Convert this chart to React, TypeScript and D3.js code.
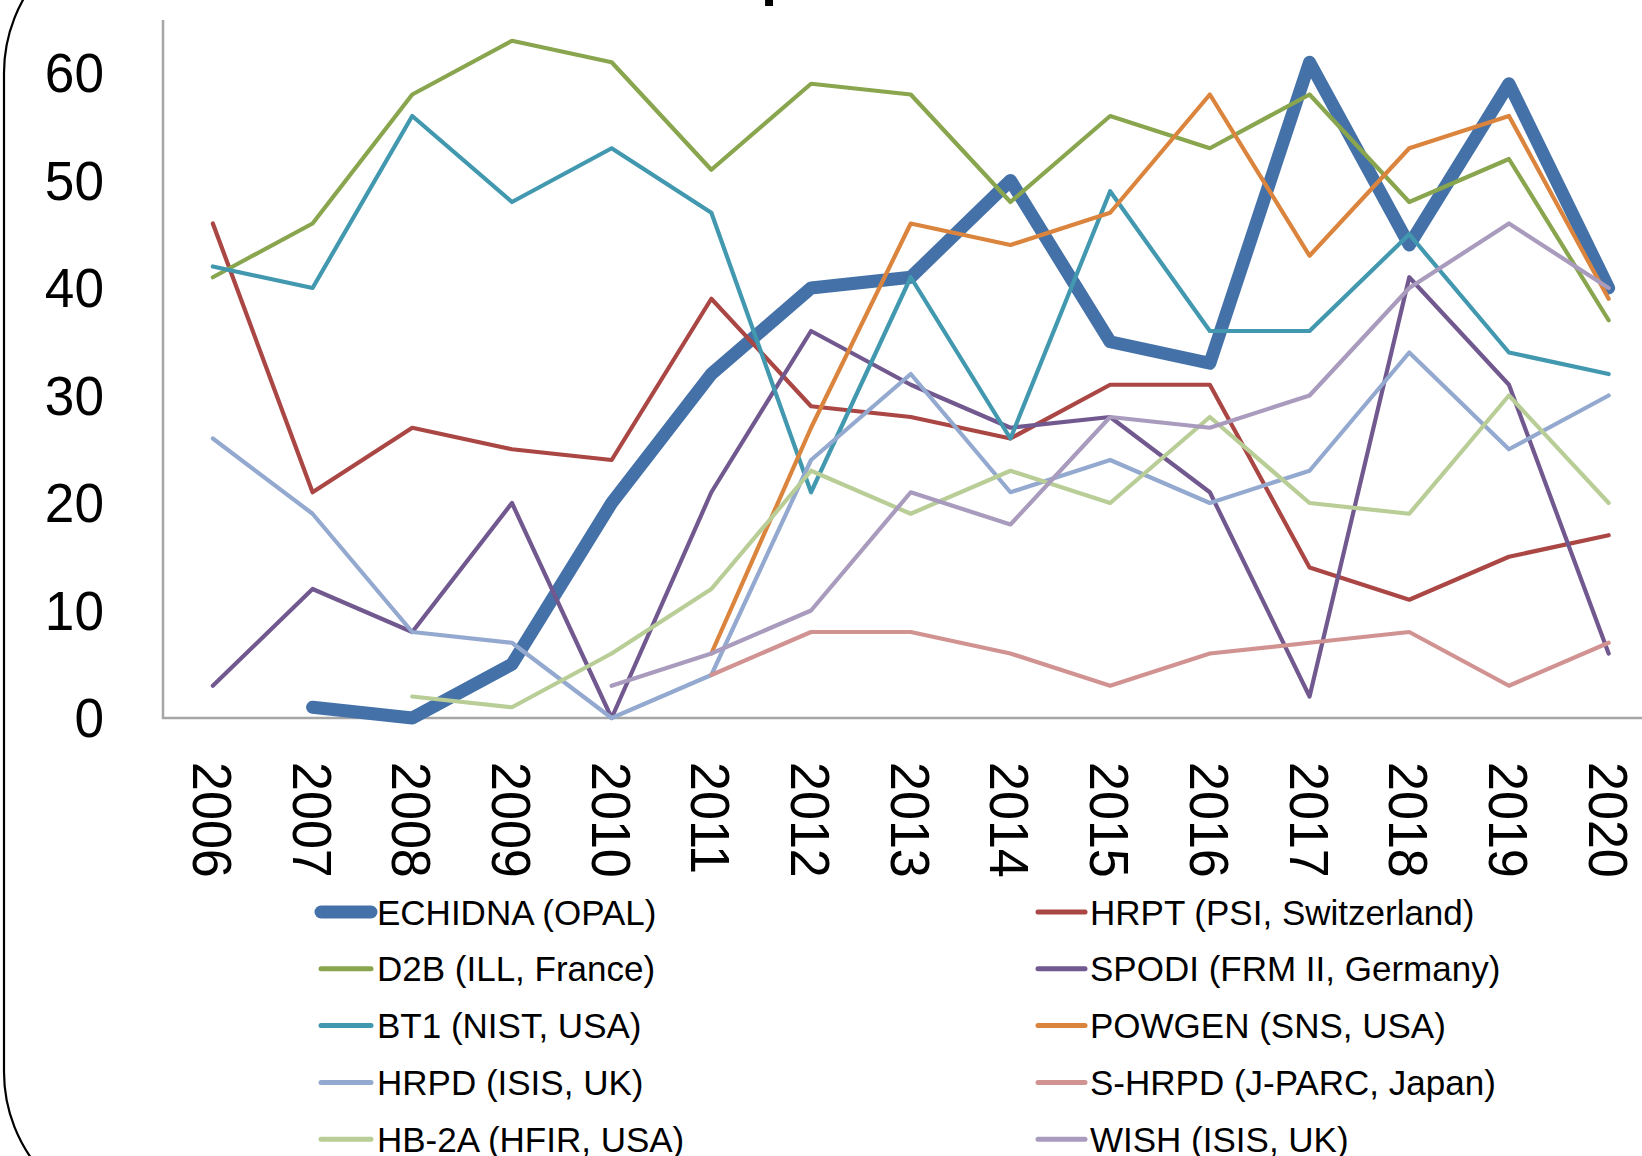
import React from 'react';
import * as d3 from 'd3';

const years = ['2006','2007','2008','2009','2010','2011','2012','2013','2014','2015','2016','2017','2018','2019','2020'];
const yTicks = [0, 10, 20, 30, 40, 50, 60];

const seriesNames = [
  'ECHIDNA (OPAL)', 'HRPT (PSI, Switzerland)',
  'D2B (ILL, France)', 'SPODI (FRM II, Germany)',
  'BT1 (NIST, USA)', 'POWGEN (SNS, USA)',
  'HRPD (ISIS, UK)', 'S-HRPD (J-PARC, Japan)',
  'HB-2A (HFIR, USA)', 'WISH (ISIS, UK)',
];
const seriesColors = ['#4471A8', '#AA4643', '#89A54E', '#71588F', '#4198AF', '#DB843D', '#93A9CF', '#D19392', '#B9CD96', '#A99BBD'];

const echidna = [null, 1, 0, 5, 20, 32, 40, 41, 50, 35, 33, 61, 44, 59, 40];
const hrpt = [46, 21, 27, 25, 24, 39, 29, 28, 26, 31, 31, 14, 11, 15, 17];
const d2b = [41, 46, 58, 63, 61, 51, 59, 58, 48, 56, 53, 58, 48, 52, 37];
const spodi = [3, 12, 8, 20, 0, 21, 36, 31, 27, 28, 21, 2, 41, 31, 6];
const bt1 = [42, 40, 56, 48, 53, 47, 21, 41, 26, 49, 36, 36, 45, 34, 32];
const powgen = [null, null, null, null, null, 6, 27, 46, 44, 47, 58, 43, 53, 56, 39];
const hrpd = [26, 19, 8, 7, 0, 4, 24, 32, 21, 24, 20, 23, 34, 25, 30];
const shrpd = [null, null, null, null, null, 4, 8, 8, 6, 3, 6, 7, 8, 3, 7];
const hb2a = [null, null, 2, 1, 6, 12, 23, 19, 23, 20, 28, 20, 19, 30, 20];
const wish = [null, null, null, null, 3, 6, 10, 21, 18, 28, 27, 30, 40, 46, 40];

const seriesValues = [echidna, hrpt, d2b, spodi, bt1, powgen, hrpd, shrpd, hb2a, wish];

const W = 1642;
const H = 1156;
const FONT = '"Liberation Sans", Arial, sans-serif';

export default function App() {
  const x = d3.scaleBand<string>().domain(years).range([163, 163 + 15 * 99.7]).padding(0);
  const y = d3.scaleLinear().domain([0, 60]).range([718, 73]);
  const cx = (yr: string) => (x(yr) as number) + x.bandwidth() / 2;

  const line = d3.line<number | null>()
    .defined((d) => d !== null && d !== undefined)
    .x((_, i) => cx(years[i]))
    .y((d) => y(d as number));

  const legendRow0 = 912;
  const legendRowStep = 56.8;

  return (
    <svg width={W} height={H} style={{ position: 'absolute', left: 0, top: 0, background: '#fff' }}>
      <rect x={0} y={0} width={W} height={H} fill="#fff" />
      {/* cut-off title fragment */}
      <text x={761} y={-6} fontFamily={FONT} fontWeight="bold" fontSize={58} fill="#000">p</text>
      {/* rounded frame */}
      <rect x={4} y={-77} width={3000} height={1299} rx={150} ry={150} fill="none" stroke="#000" strokeWidth={2.2} />

      {/* axes */}
      <line x1={163} x2={163} y1={20} y2={719} stroke="#A6A6A6" strokeWidth={2.5} />
      <line x1={162} x2={W} y1={718} y2={718} stroke="#A6A6A6" strokeWidth={2.5} />

      {/* y tick labels */}
      {yTicks.map((t) => (
        <g key={t} transform={`translate(104, ${y(t) + 19}) scale(0.95, 1)`}>
          <text x={0} y={0} textAnchor="end" fontFamily={FONT} fontSize={56} fill="#000">{String(t)}</text>
        </g>
      ))}

      {/* x tick labels */}
      {years.map((yr) => (
        <g key={yr} transform={`translate(${cx(yr)}, 762) rotate(90) scale(0.93, 1)`}>
          <text x={0} y={20} textAnchor="start" fontFamily={FONT} fontSize={56} fill="#000">{yr}</text>
        </g>
      ))}

      {/* series lines */}
      {seriesValues.map((vals, i) => (
        <path
          key={seriesNames[i]}
          d={line(vals) || ''}
          fill="none"
          stroke={seriesColors[i]}
          strokeWidth={i === 0 ? 13 : 4.2}
          strokeLinejoin="round"
          strokeLinecap="round"
        />
      ))}

      {/* legend */}
      {seriesNames.map((name, i) => {
        const col = i % 2;
        const row = Math.floor(i / 2);
        const ly = legendRow0 + row * legendRowStep;
        const mx1 = col === 0 ? 321 : 1038;
        const mx2 = col === 0 ? 371 : 1085;
        const tx = col === 0 ? 377 : 1090;
        return (
          <g key={name}>
            <line x1={mx1} x2={mx2} y1={ly} y2={ly} stroke={seriesColors[i]} strokeWidth={i === 0 ? 13 : 5} strokeLinecap="round" />
            <text x={tx} y={ly + 12.5} fontFamily={FONT} fontSize={35} fill="#000">{name}</text>
          </g>
        );
      })}
    </svg>
  );
}
